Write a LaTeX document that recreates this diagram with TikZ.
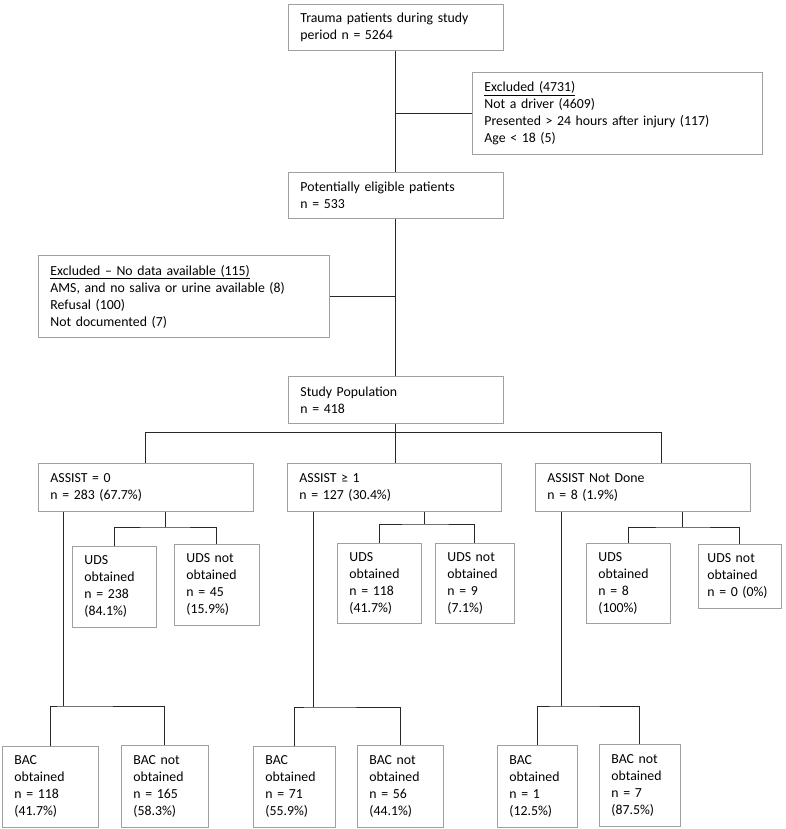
\documentclass[tikz,border=0pt]{standalone}
\usepackage{fontspec}
\setmainfont{Carlito}
\definecolor{boxGray}{RGB}{160, 160, 160}
\definecolor{lineDark}{RGB}{40, 40, 40}

\begin{document}
\begin{tikzpicture}[x=1pt, y=-1pt,
		flowbox/.style={draw=boxGray, line width=0.9pt, anchor=north west, align=left, inner xsep=12pt, inner ysep=0pt, font=\fontsize{13.8}{17}\selectfont},
		link/.style={draw=lineDark, line width=1pt}]
			\useasboundingbox (0,0) rectangle (786,829);

			\draw (288,4) node[flowbox, text width=191pt, minimum height=46pt] (trauma) {Trauma patients during study\\period n = 5264};
			\draw (472,72) node[flowbox, text width=266pt, minimum height=82pt] (excl1) {\underline{Excluded (4731)}\\Not a driver (4609)\\Presented > 24 hours after injury (117)\\Age < 18 (5)};
			\draw (288,172) node[flowbox, text width=191pt, minimum height=46pt] (elig) {Potentially eligible patients\\n = 533};
			\draw (38,255) node[flowbox, text width=267pt, minimum height=82pt] (excl2) {\underline{Excluded – No data available (115)}\\AMS, and no saliva or urine available (8)\\Refusal (100)\\Not documented (7)};
			\draw (288,376) node[flowbox, text width=191pt, minimum height=47pt] (study) {Study Population\\n = 418};

			\draw (38,463) node[flowbox, text width=191pt, minimum height=48pt] (assist0) {ASSIST = 0\\n = 283 (67.7\%)};
			\draw (287,463) node[flowbox, text width=190pt, minimum height=48pt] (assist1) {ASSIST ≥ 1\\n = 127 (30.4\%)};
			\draw (535,463) node[flowbox, text width=191pt, minimum height=48pt] (assistnd) {ASSIST Not Done\\n = 8 (1.9\%)};

			\draw (72,546) node[flowbox, text width=60pt, minimum height=81pt] (udsA1) {UDS\\obtained\\n = 238\\(84.1\%)};
			\draw (174,544) node[flowbox, text width=61pt, minimum height=81pt] (udsA2) {UDS not\\obtained\\n = 45\\(15.9\%)};
			\draw (337,543) node[flowbox, text width=60pt, minimum height=80pt] (udsB1) {UDS\\obtained\\n = 118\\(41.7\%)};
			\draw (435,543) node[flowbox, text width=55pt, minimum height=80pt] (udsB2) {UDS not\\obtained\\n = 9\\(7.1\%)};
			\draw (586,543) node[flowbox, text width=60pt, minimum height=80pt] (udsC1) {UDS\\obtained\\n = 8\\(100\%)};
			\draw (698,544) node[flowbox, text width=65pt, inner xsep=9pt, minimum height=64pt] (udsC2) {UDS not\\obtained\\n = 0 (0\%)};

			\draw (2,746) node[flowbox, text width=72pt, minimum height=81pt] (bacA1) {BAC\\obtained\\n = 118\\(41.7\%)};
			\draw (121,745) node[flowbox, text width=63pt, minimum height=82pt] (bacA2) {BAC not\\obtained\\n = 165\\(58.3\%)};
			\draw (253,746) node[flowbox, text width=58pt, minimum height=81pt] (bacB1) {BAC\\obtained\\n = 71\\(55.9\%)};
			\draw (357,745) node[flowbox, text width=62pt, minimum height=82pt] (bacB2) {BAC not\\obtained\\n = 56\\(44.1\%)};
			\draw (497,745) node[flowbox, text width=56pt, minimum height=82pt] (bacC1) {BAC\\obtained\\n = 1\\(12.5\%)};
			\draw (599,744) node[flowbox, text width=57pt, minimum height=82pt] (bacC2) {BAC not\\obtained\\n = 7\\(87.5\%)};

			% main line
			\draw[link] (trauma.south) -- (elig.north);
			\draw[link] (excl1.west) -- (excl1.west -| trauma.south);
			\draw[link] (elig.south) -- (study.north);
			\draw[link] (excl2.east) -- (excl2.east -| elig.south);

			% split by ASSIST
			\coordinate (busR) at (661,432);
			\draw[link] (study.south) -- (study.south |- assist1.north);
			\draw[link] (assist0.north) |- (busR) -- (busR |- assistnd.north);

			% UDS
			\coordinate (udsJA) at (165,527);
			\coordinate (udsJB) at (424,524);
			\coordinate (udsJC) at (682,527);
			\draw[link] (udsJA |- assist0.south) -- (udsJA);
			\draw[link] (udsA1.north) |- (udsJA) -| (udsA2.north);
			\draw[link] (udsJB |- assist1.south) -- (udsJB);
			\draw[link] (udsB1.north) |- (udsJB) -| (udsB2.north);
			\draw[link] (udsJC |- assistnd.south) -- (udsJC);
			\draw[link] (udsC1.north) |- (udsJC) -| (udsC2.north);

			% BAC
			\coordinate (bacJA) at (63,706);
			\coordinate (bacJB) at (313,707);
			\coordinate (bacJC) at (561,706);
			\draw[link] (bacJA |- assist0.south) -- (bacJA);
			\draw[link] (bacA1.north) |- (bacJA) -| (bacA2.north);
			\draw[link] (bacJB |- assist1.south) -- (bacJB);
			\draw[link] (bacB1.north) |- (bacJB) -| (bacB2.north);
			\draw[link] (bacJC |- assistnd.south) -- (bacJC);
			\draw[link] (bacC1.north) |- (bacJC) -| (bacC2.north);
		\end{tikzpicture}
\end{document}
